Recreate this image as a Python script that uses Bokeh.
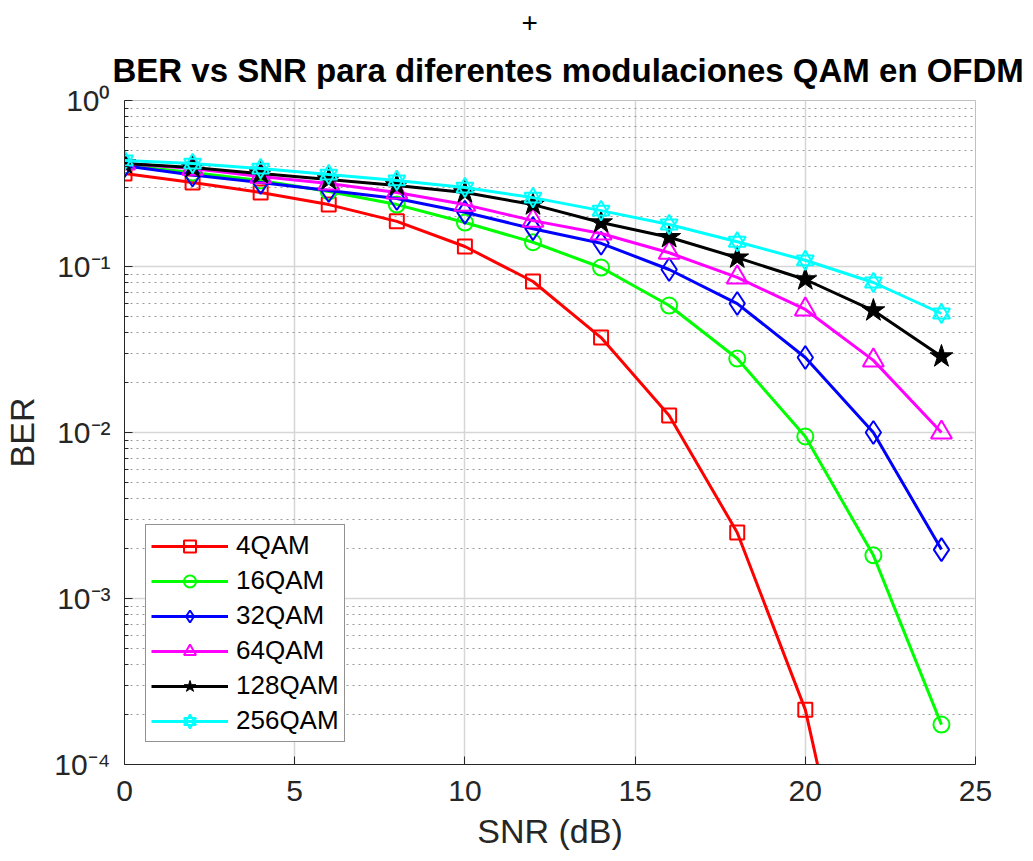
from bokeh.plotting import figure
from bokeh.models import (Range1d, FixedTicker, CustomJSTickFormatter, Legend,
                          LegendItem, Title)
from bokeh.embed import file_html
from bokeh.resources import INLINE

snr = [0, 2, 4, 6, 8, 10, 12, 14, 16, 18, 20, 22, 24]
ber_4qam = [0.363, 0.321, 0.279, 0.236, 0.187, 0.132, 0.0812, 0.0373, 0.01266,
            0.0025, 2.14e-4, 3.1e-6, 2.0e-8]
ber_16qam = [0.406, 0.368, 0.330, 0.283, 0.236, 0.184, 0.140, 0.0986, 0.0582,
             0.0279, 0.00946, 0.00182, 1.74e-4]
ber_32qam = [0.405, 0.356, 0.321, 0.287, 0.257, 0.212, 0.169, 0.138, 0.0959,
             0.0598, 0.0283, 0.0100, 0.00197]
ber_64qam = [0.417, 0.389, 0.348, 0.316, 0.279, 0.236, 0.189, 0.158, 0.121,
             0.0859, 0.0551, 0.0272, 0.0100]
ber_128qam = [0.417, 0.395, 0.363, 0.334, 0.308, 0.279, 0.236, 0.184, 0.150,
              0.113, 0.0835, 0.0543, 0.0287]
ber_256qam = [0.435, 0.417, 0.389, 0.358, 0.330, 0.299, 0.260, 0.217, 0.179,
              0.141, 0.109, 0.0801, 0.0521]

x_ticks = [0, 5, 10, 15, 20, 25]
y_major = [1e-4, 1e-3, 1e-2, 1e-1, 1]

title_text = "BER vs SNR para diferentes modulaciones QAM en OFDM"
FONT = "Liberation Sans"
AX = "#262626"

p = figure(width=1033, height=861, y_axis_type="log",
           x_range=Range1d(0, 25), y_range=Range1d(1e-4, 1),
           output_backend="svg", toolbar_location=None,
           min_border_left=124, min_border_right=58,
           min_border_top=100, min_border_bottom=97,
           background_fill_color="white", border_fill_color="white")

# outer title line: the "+" mark above the chart title
p.title.text = "+"
p.title.align = "left"
p.title.offset = 397
p.title.text_font = FONT
p.title.text_font_size = "28px"
p.title.text_font_style = "normal"
p.title.text_color = "black"
p.title.standoff = 12

main_title = Title(text=title_text, align="left", offset=-12, text_font=FONT,
                   text_font_size="33px", text_font_style="bold",
                   text_color="black", standoff=24)
p.add_layout(main_title, "above")

p.outline_line_color = "#c0c0c0"
p.outline_line_width = 1

minor = [m * 10.0 ** e for e in range(-4, 0) for m in range(2, 10)]
p.yaxis.ticker = FixedTicker(ticks=y_major, minor_ticks=minor)
p.xaxis.ticker = FixedTicker(ticks=x_ticks)
p.yaxis.formatter = CustomJSTickFormatter(code="""
const sup = {"-": "\u207b", "0": "\u2070", "1": "\u00b9", "2": "\u00b2",
             "3": "\u00b3", "4": "\u2074", "5": "\u2075"};
const e = Math.round(Math.log10(tick));
return "10" + String(e).split("").map(c => sup[c]).join("");
""")

for ax in (p.xaxis, p.yaxis):
    ax.axis_line_color = AX
    ax.axis_line_width = 1
    ax.major_tick_in = 8
    ax.major_tick_out = 0
    ax.minor_tick_in = 4
    ax.minor_tick_out = 0
    ax.major_tick_line_color = AX
    ax.minor_tick_line_color = AX
    ax.major_label_text_font = FONT
    ax.major_label_text_font_size = "30px"
    ax.major_label_text_color = AX
    ax.axis_label_text_font = FONT
    ax.axis_label_text_font_size = "34px"
    ax.axis_label_text_font_style = "normal"
    ax.axis_label_text_color = AX
p.xaxis.minor_tick_line_color = None
p.xaxis.axis_label = "SNR (dB)"
p.yaxis.axis_label = "BER"
p.xaxis.major_label_standoff = 16
p.xaxis.axis_label_standoff = 8
p.yaxis.major_label_standoff = 14
p.yaxis.axis_label_standoff = 10

p.xgrid.grid_line_color = "#d6d6d6"
p.xgrid.grid_line_width = 1.5
p.ygrid.grid_line_color = "#d6d6d6"
p.ygrid.grid_line_width = 1.5
p.ygrid.minor_grid_line_color = "#9a9a9a"
p.ygrid.minor_grid_line_dash = "2 4"
p.ygrid.minor_grid_line_width = 1

LW = 3
items = []

r1 = p.line(snr, ber_4qam, line_color="#ff0000", line_width=LW)
m1 = p.scatter(snr, ber_4qam, marker="square", size=14, line_color="#ff0000",
               line_width=2, fill_alpha=0)
items.append(LegendItem(label="4QAM", renderers=[r1, m1]))

r2 = p.line(snr, ber_16qam, line_color="#00ff00", line_width=LW)
m2 = p.scatter(snr, ber_16qam, marker="circle", size=16, line_color="#00ff00",
               line_width=2, fill_alpha=0)
items.append(LegendItem(label="16QAM", renderers=[r2, m2]))

r3 = p.line(snr, ber_32qam, line_color="#0000ff", line_width=LW)
m3 = p.scatter(snr, ber_32qam, marker="diamond", size=23, line_color="#0000ff",
               line_width=2, fill_alpha=0)
items.append(LegendItem(label="32QAM", renderers=[r3, m3]))

r4 = p.line(snr, ber_64qam, line_color="#ff00ff", line_width=LW)
m4 = p.scatter(snr, ber_64qam, marker="triangle", size=21, line_color="#ff00ff",
               line_width=2, fill_alpha=0)
items.append(LegendItem(label="64QAM", renderers=[r4, m4]))

r5 = p.line(snr, ber_128qam, line_color="#000000", line_width=LW)
m5 = p.scatter(snr, ber_128qam, marker="star", size=24, line_color="#000000",
               line_width=1, fill_color="#000000")
items.append(LegendItem(label="128QAM", renderers=[r5, m5]))

r6 = p.line(snr, ber_256qam, line_color="#00ffff", line_width=LW)
m6a = p.scatter(snr, ber_256qam, marker="triangle", size=17, line_color="#00ffff",
                line_width=2, fill_alpha=0)
m6b = p.scatter(snr, ber_256qam, marker="inverted_triangle", size=17,
                line_color="#00ffff", line_width=2, fill_alpha=0)
items.append(LegendItem(label="256QAM", renderers=[r6, m6a, m6b]))

legend = Legend(items=items, location=(21, 22),
                label_text_font=FONT, label_text_font_size="26px",
                label_text_color="black",
                glyph_width=77, glyph_height=30, label_height=30,
                spacing=4, padding=5, margin=0, label_standoff=8,
                border_line_color=AX, border_line_width=1.5,
                background_fill_color="white", background_fill_alpha=1)
p.add_layout(legend)

open("out.html", "w").write(file_html(p, INLINE))
